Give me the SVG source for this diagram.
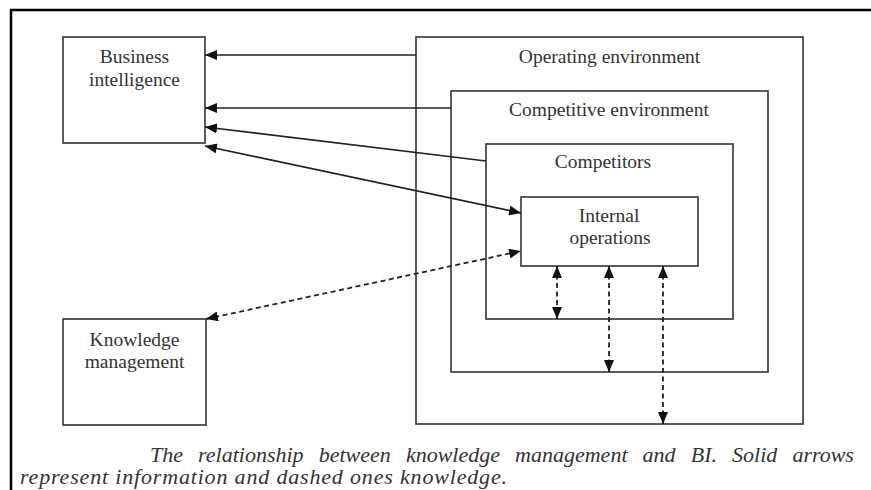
<svg xmlns="http://www.w3.org/2000/svg" width="871" height="490" viewBox="0 0 871 490">
<defs>
<style>
.box{fill:#fff;stroke:#333;stroke-width:1.6}
.lbl{font-family:"Liberation Serif","Times New Roman",serif;font-size:19.5px;fill:#333;text-anchor:middle}
.cap{font-family:"Liberation Serif","Times New Roman",serif;font-style:italic;font-size:22px;fill:#333}
.sol{fill:none;stroke:#222;stroke-width:1.6}
.dash{fill:none;stroke:#222;stroke-width:1.8;stroke-dasharray:5 3.5}
</style>
<marker id="ah" viewBox="0 0 12 10" refX="12" refY="5" markerWidth="12" markerHeight="10" markerUnits="userSpaceOnUse" orient="auto-start-reverse">
<path d="M0,0 L12,5 L0,10 Z" fill="#111"/>
</marker>
</defs>
<rect width="871" height="490" fill="#fff"/>
<path d="M11,490 V10 H871" fill="none" stroke="#000" stroke-width="2.5"/>
<g id="operating-environment">
<rect class="box" x="416" y="37" width="387" height="387"/>
<text class="lbl" x="609.5" y="63">Operating environment</text>
</g>
<g id="competitive-environment">
<rect class="box" x="451" y="91" width="317" height="281"/>
<text class="lbl" x="609" y="116">Competitive environment</text>
</g>
<g id="competitors">
<rect class="box" x="486" y="144" width="247" height="175"/>
<text class="lbl" x="603" y="168">Competitors</text>
</g>
<g id="internal-operations">
<rect class="box" x="521" y="197" width="177" height="69"/>
<text class="lbl" x="609" y="222">Internal</text>
<text class="lbl" x="610" y="244">operations</text>
</g>
<g id="business-intelligence">
<rect class="box" x="63" y="37" width="142" height="106"/>
<text class="lbl" x="134.5" y="63">Business</text>
<text class="lbl" x="134.5" y="86">intelligence</text>
</g>
<g id="knowledge-management">
<rect class="box" x="63" y="319" width="143" height="106"/>
<text class="lbl" x="134.5" y="346">Knowledge</text>
<text class="lbl" x="134.5" y="368">management</text>
</g>
<g id="connectors">
<line class="sol" x1="416" y1="55" x2="205" y2="55" marker-end="url(#ah)"/>
<line class="sol" x1="451" y1="108" x2="205" y2="108" marker-end="url(#ah)"/>
<line class="sol" x1="486" y1="161" x2="205" y2="127" marker-end="url(#ah)"/>
<line class="sol" x1="205" y1="146" x2="521" y2="213" marker-start="url(#ah)" marker-end="url(#ah)"/>
<line class="dash" x1="206" y1="319" x2="521" y2="251" marker-start="url(#ah)" marker-end="url(#ah)"/>
<line class="dash" x1="557" y1="266" x2="557" y2="319" marker-start="url(#ah)" marker-end="url(#ah)"/>
<line class="dash" x1="609" y1="266" x2="609" y2="372" marker-start="url(#ah)" marker-end="url(#ah)"/>
<line class="dash" x1="663" y1="266" x2="663" y2="424" marker-start="url(#ah)" marker-end="url(#ah)"/>
</g>
<text class="cap" x="150" y="462" word-spacing="9.6">The relationship between knowledge management and BI. Solid arrows</text>
<text class="cap" x="20" y="484" textLength="487" lengthAdjust="spacing">represent information and dashed ones knowledge.</text>
</svg>
